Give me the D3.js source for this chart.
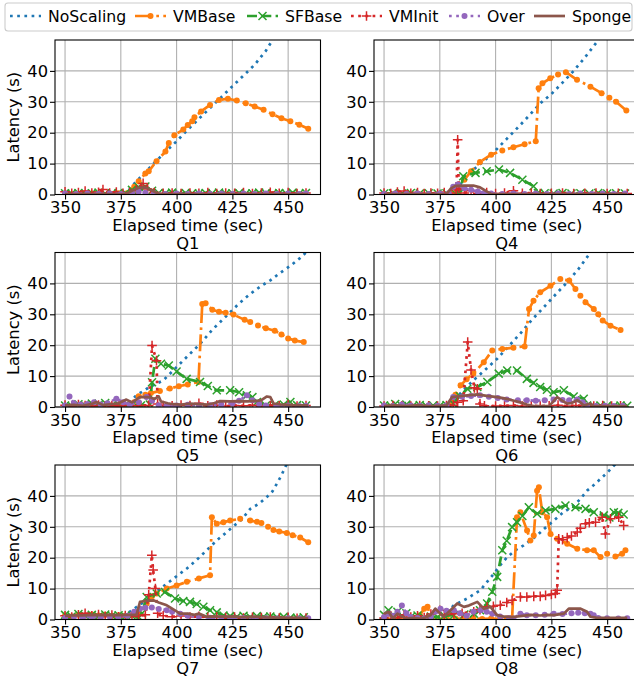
<!DOCTYPE html>
<html>
<head>
<meta charset="utf-8">
<script src="https://cdn.jsdelivr.net/npm/d3@7"></script>
<style>
body { margin: 0; background: #fff; }
text { font-family: "DejaVu Sans", sans-serif; }
</style>
</head>
<body>
<div id="chart"></div>
<script>
// series order and look (matplotlib tab10)
var seriesNames = ["NoScaling", "VMBase", "SFBase", "VMInit", "Over", "Sponge"];
var xTicks = [350, 375, 400, 425, 450];
var yTicks = [0, 10, 20, 30, 40];
var panelTitles = ["Q1", "Q4", "Q5", "Q6", "Q7", "Q8"];

// ---- Q1 ----
var q1NoScaling = [[350,0.5],[355,0.4],[360,0.5],[365,0.4],[370,0.5],[375,0.6],[378,0.9],[381,3.5],[385,6.5],[390,10.2],[395,13.8],[400,17.2],[405,21],[410,24.5],[415,28],[420,31.5],[425,35],[430,38.5],[435,42],[440,46.5],[443,50],[446,53]];
var q1VMBase = [[350,0.3],[354,0.2],[358,0.4],[362,0.3],[366,0.2],[370,0.3],[374,0.4],[378,0.5],[381,2.5],[383,4.3],[386,6.8],[387.5,7.5],[391,10.8],[395,13.9],[396.5,16.7],[399,19.2],[403,21],[405,22.5],[407,23.7],[408,25],[411,26.9],[415,29],[419,30.6],[423,31],[427,30.4],[431,29.5],[435,28.5],[439,27.4],[443,26],[447,24.7],[451,23.7],[455,22.6],[459,21.3]];
var q1SFBase = [[350,0.4],[353,0.3],[356,0.5],[359,0.3],[362,0.4],[365,0.6],[368,0.3],[371,0.4],[374,0.5],[377,0.4],[380,1.5],[383,2.4],[386,2.6],[389,1.2],[392,0.5],[395,0.4],[398,0.6],[401,0.3],[404,0.5],[407,0.4],[410,0.3],[413,0.5],[416,0.4],[419,0.6],[422,0.3],[425,0.4],[428,0.5],[431,0.3],[434,0.4],[437,0.6],[440,0.4],[443,0.3],[446,0.5],[449,0.4],[452,0.6],[455,0.3],[458,0.5]];
var q1VMInit = [[350,0.9],[353,0.4],[356,0.6],[359,1.1],[362,0.5],[365,0.7],[367,1.6],[370,0.5],[373,0.8],[376,0.4],[379,0.6],[382,1.5],[385,3.6],[387,1.8],[390,0.6],[394,0.4],[398,0.5],[402,0.3],[406,0.5],[410,0.4],[414,0.6],[418,0.3],[422,0.5],[426,0.4],[430,0.6],[434,0.3],[438,0.5],[442,0.7],[446,0.4],[450,0.6],[454,0.3],[458,0.5]];
var q1Over = [[350,0.3],[355,0.2],[360,0.3],[365,0.2],[370,0.3],[375,0.2],[380,0.5],[383,0.9],[386,0.6],[390,0.3],[395,0.2],[400,0.3],[405,0.2],[410,0.3],[415,0.2],[420,0.3],[425,0.2],[430,0.3],[435,0.2],[440,0.3],[445,0.2],[450,0.3],[455,0.2],[458,0.3]];
var q1Sponge = [[350,0.1],[360,0.1],[370,0.1],[377,0.1],[380,1.2],[383,2.2],[386,2.3],[389,1.3],[392,0.2],[400,0.1],[420,0.1],[440,0.1],[459,0.1]];

// ---- Q4 ----
var q4NoScaling = [[350,0.3],[360,0.3],[370,0.3],[380,0.4],[383,2],[386,5],[390,8],[395,11],[400,14.3],[405,18],[410,21.7],[415,25.5],[420,29.5],[425,32.5],[430,36.2],[435,40],[440,44.3],[445,49],[448,52]];
var q4VMBase = [[350,0.2],[355,0.3],[360,0.2],[365,0.3],[370,0.2],[375,0.3],[380,0.3],[383,1.5],[386,4.8],[389,7.5],[393,10.5],[398,12.9],[403,14.2],[408,15.3],[413,16.3],[418,17.2],[419.3,34.4],[421,36],[424.5,37.6],[428,38.8],[431.5,39.6],[436.5,37.1],[442.5,34.9],[447.5,32.8],[451,31.3],[454,30],[458.6,27.2]];
var q4SFBase = [[350,0.3],[354,0.4],[358,0.3],[362,0.5],[366,0.3],[370,0.4],[374,0.3],[378,0.4],[382,0.3],[384,0.5],[385.5,5.9],[391,7],[396,7.5],[401.5,8.1],[406.5,7],[412,4.8],[417,2.7],[419,0.5],[422,0.4],[426,0.3],[430,0.5],[434,0.3],[438,0.4],[442,0.3],[446,0.5],[450,0.3],[454,0.4],[458,0.3]];
var q4VMInit = [[350,0.5],[353,0.3],[356,0.8],[359,1.1],[362,0.4],[365,0.6],[368,0.3],[371,0.5],[374,0.4],[377,0.6],[380,0.5],[382.5,1.5],[383,17.7],[383.5,2],[386,0.5],[389,1.2],[392,0.4],[396,0.6],[400,0.3],[404,0.5],[408,1.2],[412,0.4],[416,0.5],[420,0.3],[425,0.4],[430,0.5],[435,0.3],[440,0.4],[445,0.5],[450,0.3],[455,0.4],[459,0.3]];
var q4Over = [[350,0.2],[355,0.3],[360,0.2],[365,0.3],[370,0.2],[375,0.3],[379,0.4],[381,2.5],[383,3.2],[386,2],[389,1.5],[392,1],[395,0.5],[398,0.3],[403,0.2],[408,0.3],[413,0.2],[418,0.3],[423,0.2],[428,0.3],[433,0.2],[438,0.3],[443,0.2],[448,0.3],[453,0.2],[458,0.3]];
var q4Sponge = [[350,0.1],[360,0.1],[370,0.1],[378,0.1],[380,2],[382,2.8],[386,2.9],[390,2.9],[393,2.3],[396,1.0],[398,0.2],[410,0.1],[430,0.1],[459,0.1]];

// ---- Q5 ----
var q5NoScaling = [[350,0.5],[360,0.5],[370,0.5],[378,0.8],[382,3.8],[388,6.5],[394,8.6],[400,12.9],[405,16.5],[410.5,20.4],[416,25],[422.5,29.6],[428,33.5],[433,36.6],[438,39.2],[442,41],[446,43.2],[451,45.7],[455,48],[458,50]];
var q5VMBase = [[350,0.4],[354,0.8],[358,0.5],[362,0.9],[366,0.4],[370,0.6],[374,0.5],[378,0.7],[381,1.5],[383,3.5],[386,4],[388.5,4.5],[392.5,5.2],[397,6],[401,6.7],[405,7.3],[409.8,8.1],[411.5,33.3],[413,33.6],[416,31.5],[419,30.8],[422,30.5],[425.5,29.9],[430.5,28.2],[433,27.5],[436.5,26.4],[440,25.5],[444,24.7],[447,23.5],[450,22.2],[453,21.5],[457,21]];
var q5SFBase = [[350,0.5],[353,0.3],[356,0.9],[359,0.5],[362,1.1],[365,0.6],[368,1.3],[371,0.5],[374,0.8],[377,0.5],[380,0.6],[384,0.5],[388,0.8],[389,8],[390.5,15.6],[393,14],[396.5,13.4],[400,11.5],[404.5,9.1],[410.5,8.1],[414,6.8],[418,5.4],[424,5.4],[428,4.8],[431.5,3.8],[434,3.2],[436,1.6],[440,0.5],[444,0.6],[448,0.8],[451,1.6],[454,0.6],[458,0.5]];
var q5VMInit = [[350,0.6],[353,0.3],[356,0.8],[359,0.5],[362,0.3],[365,0.6],[368,0.4],[371,0.5],[374,0.3],[377,0.6],[380,0.4],[384,0.5],[387.5,0.5],[389,19.9],[391,15],[391.5,1],[394,0.5],[398,0.4],[402,0.6],[406,0.5],[410,1.2],[414,0.4],[418,0.6],[422,0.3],[426,0.5],[430,0.4],[434,0.6],[438,0.3],[442,0.5],[446,0.4],[450,0.8],[454,0.3],[458,0.5]];
var q5Over = [[350,0.5],[352,3.4],[354,1.2],[357,0.8],[360,1],[363,1.5],[366,0.8],[369,1.2],[373,2.7],[376,1.5],[379,0.8],[383,1.5],[386.5,3.2],[389,2],[392,0.6],[396,0.4],[400,0.5],[405,0.7],[410,0.5],[415,0.6],[420,0.8],[425,1.2],[428,2],[431.5,3.8],[434,2.2],[437,1],[440,0.5],[445,0.4],[450,0.5],[455,0.3],[458,0.4]];
var q5Sponge = [[350,0.5],[354,0.7],[358,0.4],[362,1],[364,1.6],[367,0.6],[370,0.9],[374,1.2],[377.5,2.4],[380,1.5],[383.5,3.2],[388,3.2],[390,2.6],[392,3.4],[393,1.8],[396,1.2],[398.5,0.9],[402,0.8],[406,1.1],[410,0.9],[414,0.8],[417,1.3],[419.5,1.9],[424,1.8],[428,1.9],[432,1.8],[436,2],[438,2.2],[440.5,3.4],[442,3.2],[443.5,1.1],[447,0.8],[451,0.6],[455,0.5],[459,0.5]];

// ---- Q6 ----
var q6NoScaling = [[350,0.3],[360,0.3],[370,0.3],[378,0.5],[381,2],[385,5],[390,8.6],[395,11.8],[400.7,15.6],[405,19],[411,23.7],[416,28],[421.6,32.3],[427,36.5],[432,40.3],[437,44.5],[442,49.5],[445,53]];
var q6VMBase = [[350,0.3],[354,0.4],[358,0.3],[362,0.5],[366,0.3],[370,0.4],[374,0.3],[378,0.5],[380,1.1],[382,4],[384.3,7],[387,9],[390,10.8],[394.7,14.5],[398.5,18.3],[403,18.8],[408,19.2],[413,19.6],[415,31.7],[417,34.4],[420,37.1],[424.6,39.2],[429,41.4],[433,40.9],[435.8,38.2],[438,36],[440.3,33.9],[444,31.7],[446,30],[448,28],[451.5,26.3],[456,24.9]];
var q6SFBase = [[350,0.5],[353,0.4],[355,1],[358,0.3],[360,0.8],[363,0.4],[366,0.6],[369,0.3],[372,0.5],[375,0.4],[378,0.6],[381,1.1],[384,3.5],[387.3,5.9],[391.8,6.5],[396.3,8.1],[401.4,10.8],[405.2,11.8],[409.6,11.8],[414,9.1],[417,7.8],[420,6.5],[423,5.6],[426,4.8],[430.6,5.4],[435,3.4],[439.5,2.7],[441,0.5],[444,0.3],[447,0.5],[450,0.4],[453,0.3],[456,0.5],[459,0.4]];
var q6VMInit = [[350,0.3],[354,0.5],[358,0.4],[362,0.3],[366,0.5],[370,0.4],[374,0.3],[378,0.5],[381,0.6],[383,1.5],[385.5,2],[387.5,21],[389,12],[390.5,6.2],[391.8,5.9],[393,1],[395,0.4],[400,0.3],[404,0.4],[408,0.5],[412,0.3],[416,0.4],[420,0.3],[424,0.4],[428,0.6],[432,0.3],[436,0.5],[440,0.4],[444,0.3],[448,0.5],[452,0.3],[456,0.4]];
var q6Over = [[350,0.5],[354,0.3],[358,0.8],[362,0.5],[366,0.4],[370,0.6],[374,0.4],[378,0.5],[381,3.2],[385,3.3],[389,3.6],[393,3.8],[397,3.3],[401,2.9],[405,2.4],[410,2.2],[414,2.2],[418,2],[422,2.2],[426,2.4],[430,2.3],[433,2.2],[436.6,2.4],[439,1.5],[441,0.5],[445,0.3],[449,0.4],[453,0.3],[457,0.4]];
var q6Sponge = [[350,0.3],[355,0.5],[360,0.3],[365,0.6],[370,0.3],[375,0.4],[378,0.5],[380.5,3.2],[385,3.6],[391.8,4.1],[396,3.6],[400.7,3.2],[404,2.8],[407.4,2.2],[411,1.5],[414,0.8],[417,0.3],[424,0.3],[427.6,3.2],[430,2],[432,1.1],[434,1.3],[436.6,2.2],[438,1.5],[439.5,0.5],[442.5,1.1],[444,0.3],[450,0.3],[459,0.3]];

// ---- Q7 ----
var q7NoScaling = [[350,1],[360,1],[370,1],[376,1.2],[379,2.5],[383,4.5],[386.6,6.2],[391,9],[395.6,11.6],[400,14],[404.6,16.5],[409,19.3],[413.5,22.4],[418,25.6],[422.5,28.3],[426,30.5],[429,32.2],[433,35.8],[437,37.5],[440.4,39.6],[443,41.5],[444.9,43.9],[446.5,46],[448,48.2],[449.5,50.5]];
var q7VMBase = [[350,1.3],[353,1],[356,1.5],[359,1.2],[362,1.6],[365,1.3],[368,1.5],[371,1.2],[374,1.4],[377,1.2],[380,1.5],[383,2.5],[386.6,5.2],[389,7.5],[391.1,8.4],[395.6,10],[400,11],[404.6,12.2],[410,13.3],[415,14.3],[415.8,33.1],[418,31],[421,31.5],[424,32],[428.5,32.6],[433,32],[436,31.6],[438,31.2],[441,30],[443.4,29],[446,28.5],[449.4,28],[452,27.3],[455.4,26.5],[459,25]];
var q7SFBase = [[350,1.5],[353,1],[356,1.8],[359,1.2],[362,1.5],[365,1],[368,1.6],[371,1.2],[374,1.4],[377,1],[380,1.2],[383,0.8],[384.5,2],[386.6,7.3],[391.1,8.4],[394.8,8.9],[399.3,6.8],[403,6],[406,5.7],[409,5],[412,4.1],[415,3],[418,2.3],[421,1.3],[424,1.1],[427,0.9],[430,1.2],[433,0.8],[436,1.1],[439,0.9],[442,1],[445,0.7],[448,0.9],[451,0.6],[454,0.5],[457,0.7]];
var q7VMInit = [[350,1.2],[353,0.8],[356,1.5],[359,2],[362,1.2],[365,1.6],[368,1],[371,1.4],[374,0.9],[377,1.3],[380,1],[383,1.2],[386,1.5],[387.5,8],[388.9,20.8],[389.5,16],[390.5,10],[391.5,2],[394,1.2],[398,0.9],[402,1.1],[406,0.8],[410,1],[414,0.7],[418,0.9],[422,0.6],[426,0.8],[430,0.5],[434,0.7],[438,0.6],[442,0.8],[446,0.5],[450,0.7],[454,0.4],[458,0.5]];
var q7Over = [[350,0.5],[354,0.8],[358,0.6],[362,0.9],[366,0.7],[370,1],[374,0.8],[378,1.2],[381,2.5],[383.6,3.5],[386,3.8],[388.9,3.9],[392,3.4],[395.6,3],[398,2.5],[401.6,1.9],[405,1.2],[410,0.8],[415,0.6],[420,0.5],[425,0.4],[430,0.5],[435,0.3],[440,0.4],[445,0.3],[450,0.4],[455,0.3],[459,0.4]];
var q7Sponge = [[350,1.2],[354,1.4],[358,1.3],[362,1.5],[366,1.4],[370,1.5],[374,1.4],[378,1.5],[382,1.5],[383.6,5.7],[386,6],[389.6,6.2],[392,5.5],[395.6,4.6],[398,3.5],[401.6,1.9],[405,1.9],[408,1.5],[410,1.9],[413.5,0.9],[416,1],[420,0.9],[425,1],[430,0.8],[435,0.9],[440,0.7],[445,0.6],[450,0.5],[455,0.5],[459,0.4]];

// ---- Q8 ----
var q8NoScaling = [[350,0.4],[360,0.4],[370,0.5],[376,0.8],[381.3,4.6],[387.3,6.8],[393.2,9.5],[396,12],[399.2,14.8],[402,17.5],[405.2,20.2],[409,22.5],[412.6,24],[418.6,27.2],[422,29.5],[426.1,32],[430,34.5],[435.1,36.9],[438,39],[441,41.7],[444,43.5],[447,45.5],[450,47.5],[453,49.8],[455,51]];
var q8VMBase = [[350,0.3],[354,0.2],[358,0.3],[362,0.2],[366,1.4],[368,3.5],[369.5,4.1],[371,0.5],[374,0.3],[378,0.2],[382,0.3],[386,0.2],[390,0.3],[394,0.2],[398,0.3],[402,0.2],[405,0.3],[407.4,0.5],[409.6,33.1],[411.1,34.7],[414.1,28.8],[415.6,25.6],[417.1,27.2],[418.6,41.7],[419.4,42.8],[420.9,34.7],[423.1,33.1],[424.6,27.7],[427.6,26.1],[432.1,24.5],[436.6,22.9],[441,22.4],[444,22.4],[447,20.2],[450,21.3],[453.7,20.4],[456.7,21.3],[458.2,22.4]];
var q8SFBase = [[350,1.5],[352,3],[354,1],[356,2.5],[358,1.2],[360,2],[362,0.8],[365,1.3],[368,0.6],[371,1],[374,0.8],[377,1.2],[381.3,1.4],[386,1.6],[390.2,1.9],[393,3],[396.2,5.2],[398.5,9],[400.7,13.8],[403,22.4],[405,25.5],[407.4,29.9],[409.6,31.5],[412,33.5],[414.9,36.3],[418.6,34.2],[422.4,35.3],[426.8,35.8],[431.3,36.9],[435.8,36.3],[440.3,35.8],[444,34.7],[448.5,33.7],[451,33],[453,34.7],[455,34.5],[457.4,34]];
var q8VMInit = [[350,0.5],[353,1.2],[356,0.6],[359,1.5],[362,0.8],[365,1.2],[368,0.6],[371,1.8],[375,3],[377,1.5],[381.3,1.9],[385,2],[390.2,2.5],[393,3.2],[396.2,4.1],[399,4.3],[402.1,4.6],[405,5.5],[407.4,6.2],[411.1,7.3],[414,7.3],[417.1,7.5],[420,7.5],[422.4,7.8],[425,8.1],[426.8,8.4],[427.6,9.5],[428.3,26.1],[430,25.8],[432.1,26.5],[434,27],[436.6,28.3],[438,29.5],[440.3,31],[442,31.3],[444.8,31.5],[447.8,33.1],[449.2,27.7],[451.5,32.6],[455.2,33.1],[457.4,30.4]];
var q8Over = [[350,0.8],[352,1.9],[354,1.2],[356,2.5],[358,4.5],[360,2],[362,0.8],[365,0.5],[368,0.3],[371,1],[373,2.5],[375.3,3.5],[378,2.8],[381.3,3],[384,2],[387,1.2],[390,2.5],[393.2,3],[396,2.5],[398.5,1.9],[402,1],[406,0.5],[408,0.3],[411.1,1.9],[414,1.4],[418,1.4],[422,1.5],[426.1,1.9],[430,1.8],[434,2],[437,2.2],[440,2],[442.5,1.9],[444,1.4],[446,0.5],[450,0.4],[455,0.3],[459,0.4]];
var q8Sponge = [[350,1.9],[352,2.5],[354,0.3],[356,1.9],[358,1],[360,0.3],[363,0.5],[366,0.3],[368,0.5],[370.8,1.4],[373,3.5],[375,2],[376.8,0.9],[379.8,3],[382.8,5.2],[385.8,4.1],[388,4.5],[391.8,5.7],[394.7,3.5],[397.7,4.1],[400.7,1.4],[404,0.9],[408,0.8],[412,1.2],[416,1.5],[420,1.3],[423,1.5],[426.1,1.4],[430.6,1.9],[432.8,3.5],[436,3.5],[438.1,3.5],[441,2.5],[442.5,0.9],[445,0.6],[450,0.5],[455,0.5],[459,0.5]];

var panelData = [
    [q1NoScaling, q1VMBase, q1SFBase, q1VMInit, q1Over, q1Sponge],
    [q4NoScaling, q4VMBase, q4SFBase, q4VMInit, q4Over, q4Sponge],
    [q5NoScaling, q5VMBase, q5SFBase, q5VMInit, q5Over, q5Sponge],
    [q6NoScaling, q6VMBase, q6SFBase, q6VMInit, q6Over, q6Sponge],
    [q7NoScaling, q7VMBase, q7SFBase, q7VMInit, q7Over, q7Sponge],
    [q8NoScaling, q8VMBase, q8SFBase, q8VMInit, q8Over, q8Sponge]
];

var colors = ["#1f77b4", "#ff7f0e", "#2ca02c", "#d62728", "#9467bd", "#8c564b"];
var dashes = ["2.7,4.5", "17,4.3,2.7,4.3", "10,4.3", "2.7,4.5", "2.7,4.5", null];
var markers = [null, "dot", "x", "plus", "dot", null];
var lw = 2.7;
var fontSize = 16.3;
var legendFont = 15.7;

var width = 634, height = 676;
var colLeft = [55, 374];
var rowTop = [40, 252.5, 465];
var pw = 265.5, ph = 154.5;

var svg = d3.select("#chart").append("svg")
    .attr("width", width)
    .attr("height", height);

var x = d3.scaleLinear().domain([345.5, 464.5]).range([0, pw]);
var y = d3.scaleLinear().domain([0, 50]).range([ph, 0]);

function drawMarker(g, kind, px, py, color) {
    if (kind === "dot") {
        g.append("circle").attr("cx", px).attr("cy", py).attr("r", 3).attr("fill", color);
    } else if (kind === "x") {
        var s = 4;
        g.append("path")
            .attr("d", `M${px - s},${py - s}L${px + s},${py + s}M${px - s},${py + s}L${px + s},${py - s}`)
            .attr("stroke", color).attr("stroke-width", 1.5).attr("fill", "none");
    } else if (kind === "plus") {
        var s2 = 4.8;
        g.append("path")
            .attr("d", `M${px - s2},${py}L${px + s2},${py}M${px},${py - s2}L${px},${py + s2}`)
            .attr("stroke", color).attr("stroke-width", 1.5).attr("fill", "none");
    }
}

var line = d3.line().x(d => x(d[0])).y(d => y(d[1]));

panelData.forEach(function (series, i) {
    var col = i % 2, row = Math.floor(i / 2);
    var g = svg.append("g").attr("transform", `translate(${colLeft[col]},${rowTop[row]})`);

    // grid
    g.append("g").selectAll("line").data(xTicks).enter().append("line")
        .attr("x1", d => x(d)).attr("x2", d => x(d))
        .attr("y1", 0).attr("y2", ph)
        .attr("stroke", "#b0b0b0").attr("stroke-width", 1.1);
    g.append("g").selectAll("line").data(yTicks).enter().append("line")
        .attr("y1", d => y(d)).attr("y2", d => y(d))
        .attr("x1", 0).attr("x2", pw)
        .attr("stroke", "#b0b0b0").attr("stroke-width", 1.1);

    var clipId = "clip" + i;
    g.append("clipPath").attr("id", clipId)
        .append("rect").attr("width", pw).attr("height", ph);
    var plot = g.append("g").attr("clip-path", `url(#${clipId})`);

    series.forEach(function (data, k) {
        var path = plot.append("path")
            .attr("d", line(data))
            .attr("fill", "none")
            .attr("stroke", colors[k])
            .attr("stroke-width", lw)
            .attr("stroke-linejoin", "round");
        if (dashes[k]) path.attr("stroke-dasharray", dashes[k]);
        if (markers[k]) {
            var mg = plot.append("g");
            data.forEach(d => drawMarker(mg, markers[k], x(d[0]), y(d[1]), colors[k]));
        }
    });

    // axes
    var xAxis = g.append("g").attr("transform", `translate(0,${ph})`)
        .call(d3.axisBottom(x).tickValues(xTicks).tickSize(5).tickPadding(2).tickFormat(d3.format("d")));
    var yAxis = g.append("g")
        .call(d3.axisLeft(y).tickValues(yTicks).tickSize(5).tickPadding(2).tickFormat(d3.format("d")));
    [xAxis, yAxis].forEach(function (a) {
        a.select(".domain").remove();
        a.selectAll("text").attr("font-size", fontSize).attr("fill", "#000")
            .style("font-family", "'DejaVu Sans', sans-serif");
        a.selectAll("line").attr("stroke", "#000").attr("stroke-width", 1.1);
    });

    g.append("rect").attr("width", pw).attr("height", ph)
        .attr("fill", "none").attr("stroke", "#000").attr("stroke-width", 1.1);

    g.append("text")
        .attr("x", pw / 2).attr("y", ph + 36)
        .attr("text-anchor", "middle").attr("font-size", fontSize)
        .text("Elapsed time (sec)");
    g.append("text")
        .attr("x", pw / 2).attr("y", ph + 54)
        .attr("text-anchor", "middle").attr("font-size", fontSize)
        .text(panelTitles[i]);

    if (col === 0) {
        g.append("text")
            .attr("transform", `translate(${-36},${ph / 2}) rotate(-90)`)
            .attr("text-anchor", "middle").attr("font-size", fontSize)
            .text("Latency (s)");
    }
});

// legend
var legend = svg.append("g");
legend.append("rect")
    .attr("x", 5).attr("y", 3).attr("width", 627).attr("height", 28).attr("rx", 3)
    .attr("fill", "#fff").attr("fill-opacity", 0.8)
    .attr("stroke", "#cccccc").attr("stroke-width", 1.1);
var legendX = [48, 173, 285, 389, 487, 572];
seriesNames.forEach(function (name, k) {
    var tx = legendX[k];
    var h = legend.append("line")
        .attr("x1", tx - 38).attr("x2", tx - 7)
        .attr("y1", 16).attr("y2", 16)
        .attr("stroke", colors[k]).attr("stroke-width", lw);
    if (dashes[k]) h.attr("stroke-dasharray", dashes[k]);
    if (markers[k]) drawMarker(legend, markers[k], tx - 22.5, 16, colors[k]);
    legend.append("text")
        .attr("x", tx).attr("y", 22)
        .attr("font-size", legendFont)
        .text(name);
});
</script>
</body>
</html>
